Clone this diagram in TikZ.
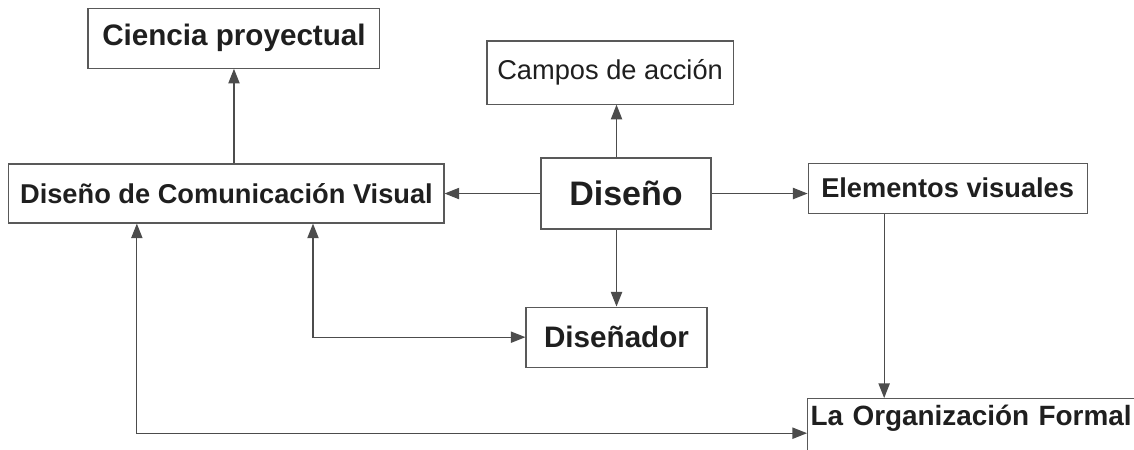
\documentclass[tikz,border=0pt]{standalone}
\usepackage{fontspec}
\setmainfont{Liberation Sans}
\usetikzlibrary{arrows.meta}

\begin{document}
\begin{tikzpicture}[
        every node/.style={rectangle, draw=black!65, line width=0.9pt, align=center, inner sep=0pt, text=black!88, font=\bfseries\fontsize{20.5}{24}\selectfont},
        arrow/.style={-{Triangle[length=11pt,width=8.5pt]}, line width=0.9pt, draw=black!70},
        twoway/.style={{Triangle[length=11pt,width=8.5pt]}-{Triangle[length=11pt,width=8.5pt]}, line width=0.9pt, draw=black!70}
    ]
\path[use as bounding box, clip] (0,0) rectangle (30,11.88);

% Boxes
        \node[minimum width=7.72cm, minimum height=1.59cm, font=\bfseries\fontsize{22.3}{26}\selectfont] (cien) at (6.19,10.87) {Ciencia proyectual};
        \node[minimum width=11.51cm, minimum height=1.56cm] (dcv) at (5.99,6.76) {Diseño de Comunicación Visual};
        \node[minimum width=6.51cm, minimum height=1.67cm, font=\fontsize{20.5}{24}\selectfont] (campos) at (16.14,9.96) {Campos de acción};
        \node[minimum width=4.50cm, minimum height=1.88cm, font=\bfseries\fontsize{25.6}{30}\selectfont] (diseno) at (16.56,6.76) {Diseño};
        \node[minimum width=4.79cm, minimum height=1.59cm, font=\bfseries\fontsize{22.3}{26}\selectfont] (disenador) at (16.31,2.96) {Diseñador};
        \node[minimum width=7.38cm, minimum height=1.32cm] (elem) at (25.07,6.90) {Elementos visuales};
        \node[anchor=north west, text width=11cm, align=left, inner xsep=2.3pt, inner ysep=5.3pt, text height=15pt, text depth=40pt, font=\bfseries\fontsize{21}{25}\selectfont] (org) at (21.35,1.35) {La Organización Formal};

% Bends of the long connectors
        \coordinate (bendA) at (8.28,2.96);
        \coordinate (bendB) at (3.62,0.42);
        \coordinate (bendC) at (23.39,0.42);

% Arrows
        \draw[arrow] (dcv.north -| cien.south) -- (cien.south);
        \draw[arrow] (diseno.north -| disenador) -- (campos.south -| disenador);
        \draw[arrow] (diseno.west) -- (diseno.west -| dcv.east);
        \draw[arrow] (diseno.east) -- (diseno.east -| elem.west);
        \draw[arrow] (diseno.south -| disenador) -- (disenador.north);
        \draw[twoway] (dcv.south -| bendA) |- (disenador.west);
        \draw[arrow] (elem.south -| bendC) -- (org.north -| bendC);
        \draw[twoway] (dcv.south -| bendB) |- (org.west |- bendB);

    \end{tikzpicture}
\end{document}
